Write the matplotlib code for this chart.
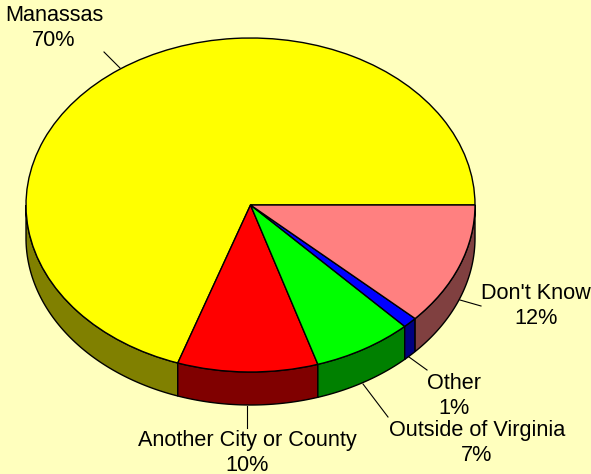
import numpy as np
import matplotlib
matplotlib.use('Agg')
import matplotlib.pyplot as plt

labels = ['Manassas', 'Another City or County', 'Outside of Virginia', 'Other', "Don't Know"]
shares = [69.75, 10.1, 7.2, 1.05, 11.9]
colors = ['#ffff00', '#ff0000', '#00ff00', '#0000ff', '#ff8080']
side_colors = ['#808000', '#800000', '#008000', '#000080', '#804040']
bg = '#ffffbe'

# pie geometry in pixels
W, H = 591, 474
cx, cy = 250.5, 205
rx, ry = 224.5, 167
depth = 33

fig = plt.figure(figsize=(W / 100, H / 100), dpi=100, facecolor=bg)
ax = fig.add_axes([0, 0, 1, 1])
ax.set_facecolor(bg)
ax.axis('off')


def px(x, y):
    # pixel position to data position
    return (x - cx) / rx, (cy - y) / ry


edges = np.cumsum([0] + shares) * 3.6
d = depth / ry

# side wall, front half only
for i in range(len(shares)):
    t0, t1 = max(edges[i], 180), edges[i + 1]
    if t1 <= t0:
        continue
    t = np.radians(np.linspace(t0, t1, 80))
    xs = np.cos(t)
    ys = np.sin(t)
    ax.fill(np.r_[xs, xs[::-1]], np.r_[ys, ys[::-1] - d], fc=side_colors[i],
            ec='k', lw=1, zorder=1)

wedges, _ = ax.pie(shares, colors=colors, startangle=0, counterclock=True,
                   wedgeprops=dict(ec='k', lw=1, zorder=2))
ax.set_aspect('auto')
ax.set_xlim(-cx / rx, (W - cx) / rx)
ax.set_ylim((cy - H) / ry, cy / ry)

# labels and leader lines
label_pos = [(54, 28), (247, 453), (477, 443), (454, 396), (536, 306)]
leaders = [[(120, 68), (104, 52)],
           [(247, 406), (247, 428)],
           [(363, 384), (388, 417)],
           [(409, 357), (427, 370)],
           [(460, 300), (481, 306)]]
for i in range(len(shares)):
    xs, ys = zip(*[px(*p) for p in leaders[i]])
    ax.plot(xs, ys, color='k', lw=0.8, zorder=3)
    x, y = px(*label_pos[i])
    ax.text(x, y, '%s\n%.0f%%' % (labels[i], shares[i]), ha='center', va='center',
            family='Liberation Sans', fontsize=15.6, linespacing=1.25, zorder=4,
            clip_on=False)

fig.savefig('out.png', dpi=100, facecolor=bg)
